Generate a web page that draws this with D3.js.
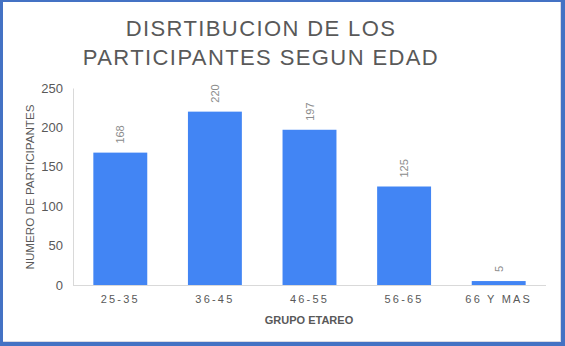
<!DOCTYPE html>
<html><head><meta charset="utf-8">
<script src="https://cdn.jsdelivr.net/npm/d3@7"></script>
<style>
html,body{margin:0;padding:0;background:#fff;}
svg{display:block;font-family:"Liberation Sans",Arial,sans-serif;}
</style></head>
<body><svg id="c" width="565" height="346"></svg>
<script>
const categories = ["25-35","36-45","46-55","56-65","66 Y MAS"];
const values = [168,220,197,125,5];
const yTicks = [0,50,100,150,200,250];
const titleLines = ["DISRTIBUCION DE LOS","PARTICIPANTES SEGUN EDAD"];
const xTitle = "GRUPO ETAREO";
const yTitle = "NUMERO DE PARTICIPANTES";

const svg = d3.select("#c");
const W = 565, H = 346;
// frame
svg.append("rect").attr("x",0).attr("y",0).attr("width",W).attr("height",H).attr("fill","#4472c4");
svg.append("rect").attr("x",3).attr("y",2).attr("width",W-7).attr("height",H-6).attr("fill","#d9d9e3");
svg.append("rect").attr("x",3).attr("y",2).attr("width",W-8).attr("height",H-7).attr("fill","#fff");

const x = d3.scaleBand().domain(categories).range([73,546]).paddingInner(0.43).paddingOuter(0.215);
const y = d3.scaleLinear().domain([0,250]).range([285,88]);

// title
const t = svg.append("text").attr("text-anchor","middle").attr("fill","#595959")
  .attr("font-size",22).attr("letter-spacing",1.4);
titleLines.forEach((l,i)=>{
  t.append("tspan").attr("x",261).attr("y",36+i*28.5).text(l);
});

// y axis
const ya = svg.append("g").attr("transform","translate(73,0)")
  .call(d3.axisLeft(y).tickValues(yTicks).tickSize(0).tickPadding(10));
ya.select(".domain").attr("stroke","#d9d9d9");
ya.selectAll("text").attr("fill","#595959").attr("font-size",13).attr("font-family","Liberation Sans, Arial, sans-serif");

// bars
svg.append("g").selectAll("rect").data(values).join("rect")
  .attr("x",(d,i)=>x(categories[i])).attr("width",x.bandwidth())
  .attr("y",d=>y(d)).attr("height",d=>y(0)-y(d)).attr("fill","#4285f4");

// data labels
svg.append("g").selectAll("text").data(values).join("text")
  .attr("transform",(d,i)=>`translate(${x(categories[i])+x.bandwidth()/2+4},${y(d)-9}) rotate(-90)`)
  .attr("fill","#8c8c8c").attr("font-size",11).attr("text-anchor","start")
  .text(d=>d);

// x axis
const xa = svg.append("g").attr("transform","translate(0,285)")
  .call(d3.axisBottom(x).tickSize(0).tickPadding(10));
xa.select(".domain").attr("stroke","#d9d9d9").attr("d","M73,0.5H546");
xa.selectAll("text").attr("fill","#595959").attr("font-size",11).attr("letter-spacing",2.2)
  .attr("font-family","Liberation Sans, Arial, sans-serif");

// axis titles
svg.append("text").attr("x",309).attr("y",324).attr("text-anchor","middle")
  .attr("font-size",11).attr("font-weight","bold").attr("fill","#595959").text(xTitle);
svg.append("text").attr("transform","translate(34,187) rotate(-90)").attr("text-anchor","middle")
  .attr("font-size",11).attr("fill","#595959").attr("textLength",165).attr("lengthAdjust","spacingAndGlyphs").text(yTitle);
</script></body></html>
